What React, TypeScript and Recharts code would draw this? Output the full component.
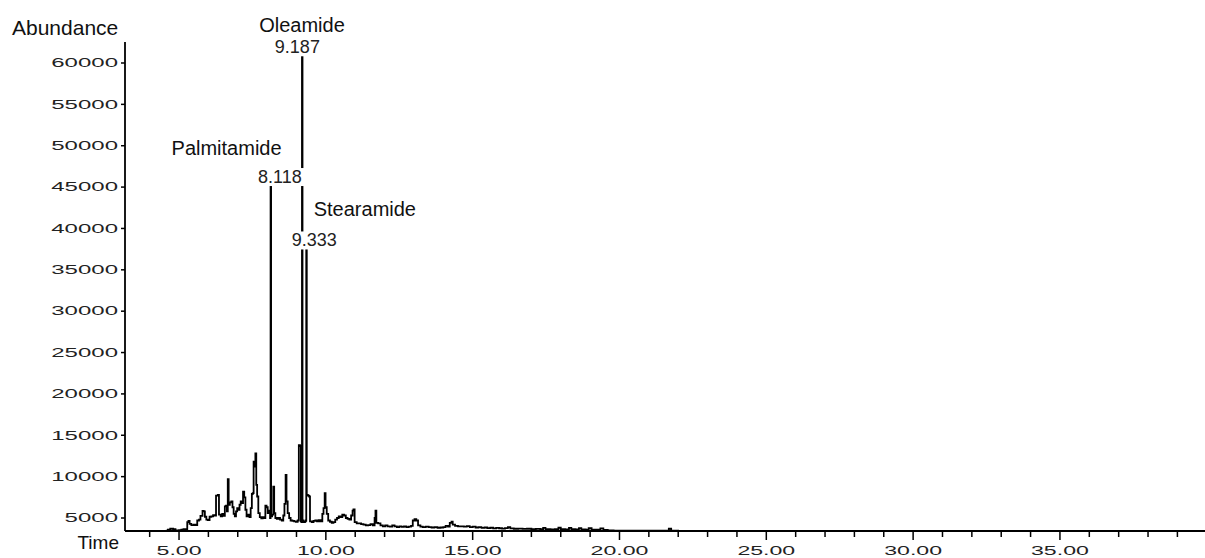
import { LineChart, Line, XAxis, YAxis, ReferenceDot } from 'recharts';

// [retention time (min), abundance]
const risingTrace: [number, number][] = [
  [4.55, 3480], [4.62, 3600], [4.7, 3700], [4.8, 3650], [4.88, 3500], [5.0, 3520],
  [5.08, 3600], [5.15, 3650], [5.22, 3620], [5.28, 4500], [5.32, 4650], [5.36, 4300],
  [5.42, 4150], [5.5, 4200], [5.56, 4150], [5.62, 4700], [5.68, 4800], [5.73, 5250],
  [5.8, 5850], [5.84, 5800], [5.88, 5150], [5.93, 4800], [5.98, 4750], [6.04, 5150],
  [6.1, 5200], [6.16, 5350], [6.22, 5300], [6.26, 7700], [6.32, 7800], [6.36, 5400],
  [6.42, 5200], [6.47, 5500], [6.52, 5250], [6.56, 6400], [6.6, 6500], [6.63, 5800],
  [6.66, 9700], [6.69, 6600], [6.73, 6900], [6.78, 7000], [6.82, 6300], [6.86, 5500],
  [6.9, 5200], [6.94, 5800], [6.98, 6200], [7.02, 6000], [7.06, 6600], [7.1, 7000],
  [7.14, 6800], [7.18, 8200], [7.22, 7500], [7.26, 6000], [7.3, 5200], [7.35, 5400],
  [7.4, 5100], [7.44, 6200], [7.48, 7900], [7.51, 8000], [7.54, 11800], [7.57, 11200],
  [7.6, 12800], [7.63, 9000], [7.66, 7600], [7.7, 5600], [7.75, 5100], [7.8, 4950],
  [7.85, 5100], [7.9, 5000], [7.94, 6500], [7.98, 6300], [8.02, 5600], [8.06, 5900],
  [8.1, 5000],
];

const amideTrace: [number, number][] = [
  [8.118, 45370], [8.135, 5200], [8.17, 5400], [8.21, 8780], [8.24, 5600], [8.28, 5000],
  [8.33, 4900], [8.38, 5000], [8.44, 4800], [8.5, 4700], [8.55, 5300], [8.59, 6700],
  [8.63, 10200], [8.66, 7000], [8.7, 5600], [8.75, 5000], [8.8, 4700], [8.86, 4650],
  [8.92, 4600], [8.98, 4550], [9.04, 4700], [9.08, 13800], [9.12, 13700], [9.15, 4600],
  [9.17, 4500], [9.187, 60720], [9.205, 4700], [9.24, 4500], [9.29, 4600], [9.318, 4700],
  [9.333, 37400], [9.35, 7800], [9.39, 7700], [9.43, 7600], [9.46, 4600], [9.52, 4500],
  [9.58, 4650], [9.64, 4700], [9.7, 4600], [9.76, 4750], [9.82, 4600], [9.88, 5500],
  [9.92, 6200], [9.96, 8000], [9.99, 6300], [10.03, 5500], [10.08, 4700],
];

const tailTrace: [number, number][] = [
  [10.14, 4550], [10.2, 4400], [10.26, 4500], [10.32, 4800], [10.38, 5000], [10.44, 5200],
  [10.5, 5100], [10.56, 5400], [10.62, 5300], [10.68, 5000], [10.74, 4900], [10.8, 4800],
  [10.86, 5300], [10.91, 5900], [10.94, 6050], [10.98, 4500], [11.05, 4350], [11.12, 4350],
  [11.2, 4250], [11.28, 4200], [11.36, 4100], [11.44, 4150], [11.52, 4250], [11.6, 4100],
  [11.66, 5000], [11.69, 5900], [11.72, 4400], [11.78, 4350], [11.86, 4100], [11.94, 4000],
  [12.02, 4100], [12.1, 4000], [12.18, 3950], [12.26, 4100], [12.34, 4000], [12.42, 3900],
  [12.5, 3980], [12.58, 3920], [12.66, 4000], [12.74, 3900], [12.82, 3950], [12.9, 4050],
  [12.96, 4700], [13.02, 4850], [13.08, 4700], [13.14, 4100], [13.22, 3950], [13.3, 3900],
  [13.4, 3950], [13.5, 3900], [13.6, 3850], [13.7, 3900], [13.8, 3820], [13.9, 3850],
  [14.0, 3900], [14.08, 4050], [14.16, 3950], [14.22, 4400], [14.28, 4550], [14.32, 4200],
  [14.4, 4050], [14.5, 3980], [14.6, 4000], [14.7, 3950], [14.8, 4020], [14.9, 3900],
  [15.0, 3950], [15.1, 3850], [15.2, 3900], [15.3, 3800], [15.4, 3850], [15.5, 3780],
  [15.6, 3820], [15.7, 3750], [15.8, 3800], [15.9, 3760], [16.0, 3720], [16.1, 3780],
  [16.2, 3900], [16.28, 3750], [16.4, 3700], [16.55, 3720], [16.7, 3680], [16.85, 3700],
  [17.0, 3650], [17.15, 3680], [17.3, 3640], [17.4, 3800], [17.48, 3650], [17.65, 3620],
  [17.8, 3640], [17.92, 3820], [18.0, 3650], [18.15, 3620], [18.28, 3800], [18.36, 3640],
  [18.5, 3620], [18.62, 3780], [18.7, 3620], [18.85, 3600], [18.95, 3760], [19.05, 3600],
  [19.2, 3580], [19.35, 3740], [19.45, 3560], [19.6, 3500], [19.8, 3470], [20.2, 3460],
  [21.0, 3460], [21.6, 3460], [21.68, 3700], [21.76, 3460], [22.0, 3450],
];

const peaks = [
  { name: 'Palmitamide', time: 8.118, abundance: 45370 },
  { name: 'Oleamide', time: 9.187, abundance: 60720 },
  { name: 'Stearamide', time: 9.333, abundance: 37400 },
];

const timeTicks = [4, 5, 6, 7, 8, 9, 10, 11, 12, 13, 14, 15, 16, 17, 18, 19, 20, 21, 22, 23, 24, 25, 26, 27, 28, 29, 30, 31, 32, 33, 34, 35, 36, 37, 38, 39];
const abundanceTicks = [5000, 10000, 15000, 20000, 25000, 30000, 35000, 40000, 45000, 50000, 55000, 60000];

const data = [...risingTrace, ...amideTrace, ...tailTrace].map(([time, abundance]) => ({ time, abundance }));

// label placement relative to the peak apex (px)
const labelPos: Record<string, { nameDx: number; nameDy: number; numDx: number; numDy: number }> = {
  Palmitamide: { nameDx: -44, nameDy: -29, numDx: 9.3, numDy: -1 },
  Oleamide: { nameDx: 0, nameDy: -25, numDx: -4.6, numDy: -4 },
  Stearamide: { nameDx: 58.6, nameDy: -33.5, numDx: 8, numDy: -3.5 },
};

const FONT = '"Liberation Sans", Arial, sans-serif';

function TimeTick({ x, y, payload }: any) {
  const v = payload.value;
  const major = v % 5 === 0;
  return (
    <g>
      <line x1={x} x2={x} y1={y} y2={y + (major ? 9 : 6)} stroke="#000" strokeWidth={1.5} />
      {major && (
        <text transform={`translate(${x},${y + 23.5}) scale(1.85,1)`} textAnchor="middle" fontFamily={FONT} fontSize={12.5} fill="#222">
          {v.toFixed(2)}
        </text>
      )}
    </g>
  );
}

function AbundanceTick({ x, y, payload }: any) {
  return (
    <g>
      <line x1={x - 4} x2={x} y1={y} y2={y} stroke="#000" strokeWidth={1.5} />
      <text transform={`translate(${x - 7},${y + 4.3}) scale(2,1)`} textAnchor="end" fontFamily={FONT} fontSize={12} fill="#222">
        {payload.value}
      </text>
    </g>
  );
}

function PeakLabel({ cx, cy, peak }: any) {
  const p = labelPos[peak.name];
  const numX = cx + p.numDx;
  const numY = cy + p.numDy;
  return (
    <g>
      <rect x={numX - 24.5} y={numY - 15} width={49} height={18} fill="#fff" />
      <text x={numX} y={numY} textAnchor="middle" fontFamily={FONT} fontSize={18} fill="#222">
        {peak.time.toFixed(3)}
      </text>
      <text x={cx + p.nameDx} y={cy + p.nameDy} textAnchor="middle" fontFamily={FONT} fontSize={20} fill="#111">
        {peak.name}
      </text>
    </g>
  );
}

export default function App() {
  return (
    <div style={{ position: 'absolute', left: 0, top: 0, width: 1205, height: 558, background: '#fff' }}>
      <LineChart width={1205} height={558} data={data} margin={{ top: 42, right: 0, bottom: 0, left: 0 }}>
        <XAxis
          dataKey="time"
          type="number"
          domain={[3.16, 39.94]}
          allowDataOverflow
          ticks={timeTicks}
          interval={0}
          height={27}
          tickSize={0}
          tickMargin={0}
          tickLine={false}
          axisLine={{ stroke: '#000', strokeWidth: 1.8 }}
          tick={<TimeTick />}
        />
        <YAxis
          type="number"
          domain={[3429, 62538]}
          allowDataOverflow
          ticks={abundanceTicks}
          interval={0}
          width={125}
          tickSize={0}
          tickMargin={0}
          tickLine={false}
          axisLine={{ stroke: '#000', strokeWidth: 1.8 }}
          tick={<AbundanceTick />}
        />
        <Line
          dataKey="abundance"
          type="stepAfter"
          stroke="#000"
          strokeWidth={1.8}
          dot={false}
          isAnimationActive={false}
        />
        {peaks.map((pk) => (
          <ReferenceDot
            key={pk.name}
            x={pk.time}
            y={pk.abundance}
            r={0}
            shape={(props: any) => <PeakLabel {...props} peak={pk} />}
          />
        ))}
      </LineChart>
      <svg width={1205} height={558} style={{ position: 'absolute', left: 0, top: 0, pointerEvents: 'none' }}>
        <text x={12} y={35} fontFamily={FONT} fontSize={21} fill="#111">Abundance</text>
        <text x={119} y={549} textAnchor="end" fontFamily={FONT} fontSize={19} fill="#111">Time</text>
      </svg>
    </div>
  );
}
